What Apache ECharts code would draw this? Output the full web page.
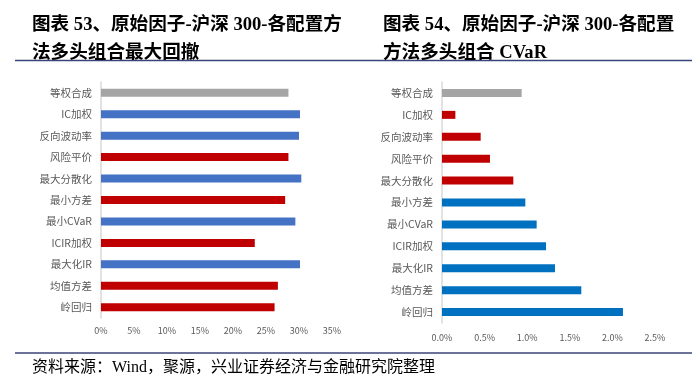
<!DOCTYPE html>
<html>
<head>
<meta charset="utf-8">
<script src="https://cdn.jsdelivr.net/npm/echarts@6/dist/echarts.min.js"></script>
<style>html,body{margin:0;padding:0;background:#fff;}#c{width:700px;height:384px;}</style>
</head>
<body>
<div id="c"></div>
<script>
const categories = ['等权合成','IC加权','反向波动率','风险平价','最大分散化','最小方差','最小CVaR','ICIR加权','最大化IR','均值方差','岭回归'];
const drawdownValues = [28.4, 30.15, 30.0, 28.4, 30.35, 27.9, 29.45, 23.3, 30.15, 26.8, 26.3];
const cvarValues = [0.935, 0.157, 0.454, 0.563, 0.837, 0.978, 1.111, 1.221, 1.326, 1.635, 2.124];
const drawdownTicks = ['0%','5%','10%','15%','20%','25%','30%','35%'];
const cvarTicks = ['0.0%','0.5%','1.0%','1.5%','2.0%','2.5%'];
const drawdownGroups = ['g','b','b','r','b','r','b','r','b','r','r'];
const cvarGroups = ['g','r','r','r','r','b','b','b','b','b','b'];

const leftColors = {g:'#A5A5A5', b:'#4472C4', r:'#C00000'};
const rightColors = {g:'#A5A5A5', b:'#0070C0', r:'#C00000'};
const CJK = '"Liberation Serif","Noto Sans CJK SC",serif';
const SANS = '"Noto Sans CJK SC","Noto Sans",sans-serif';

const chart = echarts.init(document.getElementById('c'), null, {renderer:'canvas'});
function bars(vals, groups, cmap){
  return vals.map((v,i)=>({value:v, itemStyle:{color:cmap[groups[i]]}}));
}
const catAxis = (gi)=>({
  type:'category', gridIndex:gi, data:categories, inverse:true,
  axisLine:{show:true, lineStyle:{color:'#D9D9D9', width:1.5}},
  axisTick:{show:false},
  axisLabel:{color:'#595959', fontSize:10.5, fontFamily:SANS, margin:9}
});
chart.setOption({
  animation:false,
  title:[
    {text:'图表 53、原始因子-沪深 300-各配置方\n法多头组合最大回撤', left:27, top:6,
     textStyle:{fontSize:18.6, fontWeight:'bold', fontFamily:CJK, color:'#000', lineHeight:28}},
    {text:'图表 54、原始因子-沪深 300-各配置\n方法多头组合 CVaR', left:378, top:6,
     textStyle:{fontSize:18.6, fontWeight:'bold', fontFamily:CJK, color:'#000', lineHeight:28}},
    {text:'资料来源：Wind，聚源，兴业证券经济与金融研究院整理', left:27, top:355,
     textStyle:{fontSize:16, fontWeight:'normal', fontFamily:CJK, color:'#000'}}
  ],
  graphic:[
    {type:'line', shape:{x1:15,y1:60.5,x2:692,y2:60.5}, style:{stroke:'#3B4478', lineWidth:1.5}},
    {type:'line', shape:{x1:15,y1:353,x2:692,y2:353}, style:{stroke:'#3B4478', lineWidth:1.5}}
  ],
  grid:[
    {left:101, right:368, top:82, bottom:66},
    {left:442, right:45, top:82, bottom:61}
  ],
  xAxis:[
    {type:'value', gridIndex:0, min:0, max:35, interval:5,
     axisLine:{show:false}, axisTick:{show:false}, splitLine:{show:false},
     axisLabel:{color:'#595959', fontSize:9, fontFamily:SANS, margin:8,
       formatter:(v)=>drawdownTicks[Math.round(v/5)]}},
    {type:'value', gridIndex:1, min:0, max:2.5, interval:0.5,
     axisLine:{show:false}, axisTick:{show:false}, splitLine:{show:false},
     axisLabel:{color:'#595959', fontSize:9, fontFamily:SANS, margin:10,
       formatter:(v)=>cvarTicks[Math.round(v/0.5)]}}
  ],
  yAxis:[catAxis(0), catAxis(1)],
  series:[
    {type:'bar', xAxisIndex:0, yAxisIndex:0, barWidth:8, data:bars(drawdownValues, drawdownGroups, leftColors)},
    {type:'bar', xAxisIndex:1, yAxisIndex:1, barWidth:8, data:bars(cvarValues, cvarGroups, rightColors)}
  ]
});
</script>
</body>
</html>
